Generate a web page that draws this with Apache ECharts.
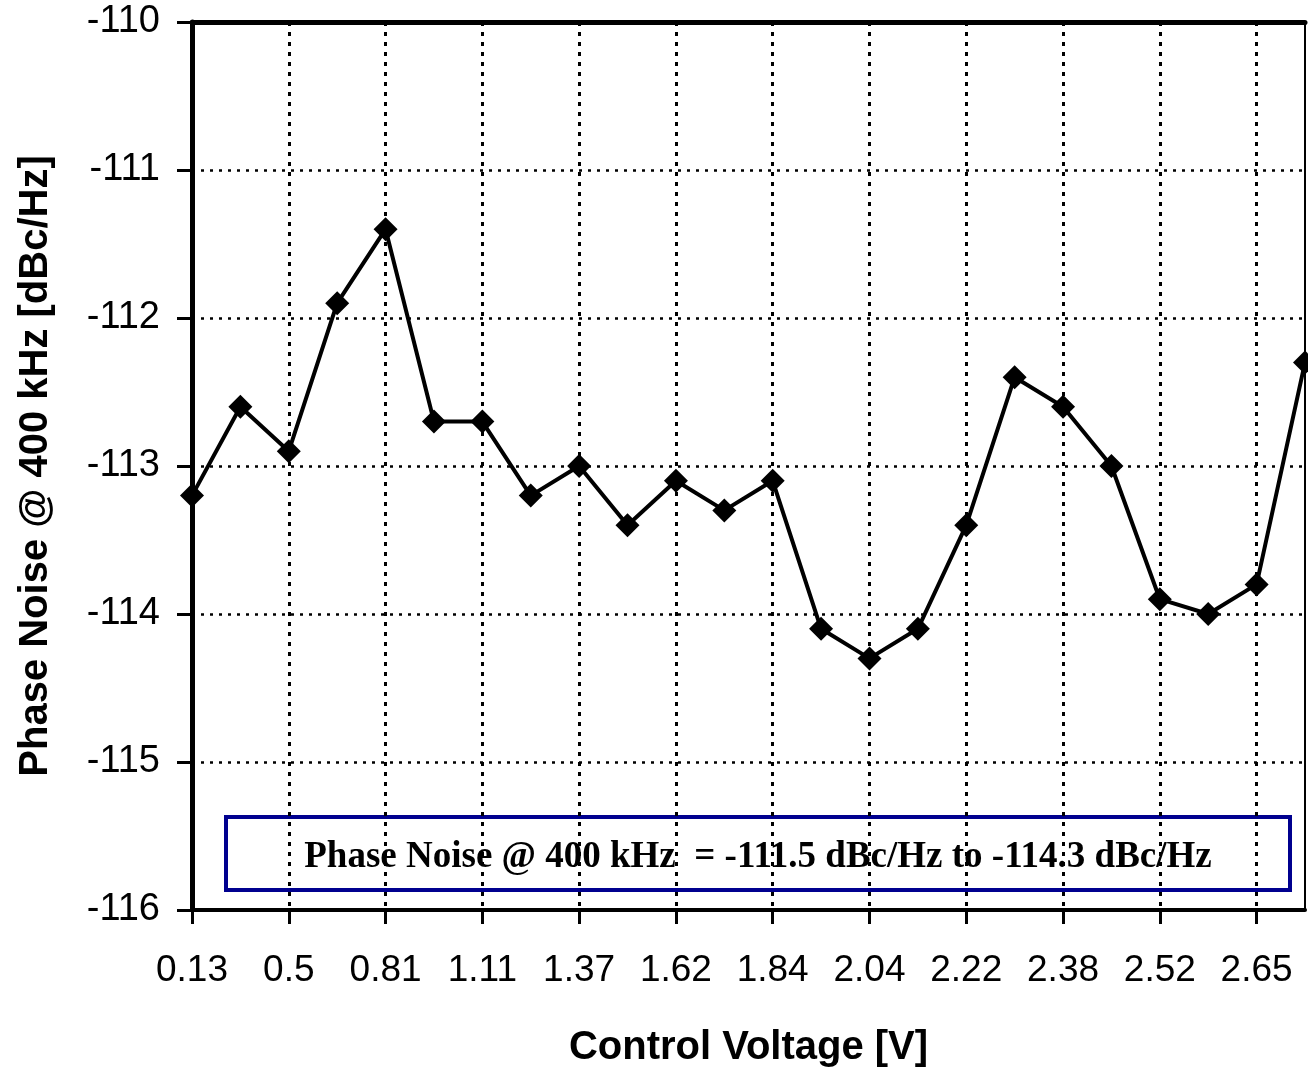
<!DOCTYPE html>
<html>
<head>
<meta charset="utf-8">
<script src="https://cdn.jsdelivr.net/npm/echarts@6/dist/echarts.min.js"></script>
<style>
html,body{margin:0;padding:0;background:#fff;overflow:hidden;}
#chart{width:1308px;height:1067px;}
</style>
</head>
<body>
<div id="chart"></div>
<script>
// Control voltage categories (every other one is labeled in the reference; the unlabeled ones are estimates)
var categories = ['0.13','0.33','0.5','0.66','0.81','0.96','1.11','1.24','1.37','1.50','1.62','1.73','1.84','1.94','2.04','2.13','2.22','2.30','2.38','2.45','2.52','2.59','2.65','2.75'];
// Phase noise @ 400 kHz [dBc/Hz]
var phaseNoise = [-113.2,-112.6,-112.9,-111.9,-111.4,-112.7,-112.7,-113.2,-113.0,-113.4,-113.1,-113.3,-113.1,-114.1,-114.3,-114.1,-113.4,-112.4,-112.6,-113.0,-113.9,-114.0,-113.8,-112.3];
var yMin = -116, yMax = -110, yStep = 1;
var annotationText = 'Phase Noise @ 400 kHz  = -111.5 dBc/Hz to -114.3 dBc/Hz';

var chart = echarts.init(document.getElementById('chart'), null, {renderer:'canvas'});
var sansFont = '"Liberation Sans", Arial, Helvetica, sans-serif';
var option = {
  animation: false,
  backgroundColor: '#ffffff',
  grid: {left: 192, right: 3, top: 22, bottom: 157, containLabel: false, outerBoundsMode: 'none'},
  xAxis: [{
    type: 'category',
    data: categories,
    boundaryGap: false,
    name: 'Control Voltage [V]',
    nameLocation: 'middle',
    nameGap: 118,
    nameTextStyle: {fontFamily: sansFont, fontWeight: 'bold', fontSize: 40, color: '#000'},
    axisLine: {show: true, lineStyle: {color: '#000', width: 4}},
    axisTick: {show: true, interval: 1, length: 14, lineStyle: {color: '#000', width: 3}},
    axisLabel: {interval: 1, margin: 42, fontFamily: sansFont, fontSize: 37, color: '#000'},
    splitLine: {show: true, interval: 1, lineStyle: {color: '#000', width: 3, type: [4, 6]}}
  },{
    type: 'category',
    data: categories,
    boundaryGap: false,
    position: 'top',
    axisLine: {show: true, lineStyle: {color: '#000', width: 5}},
    axisTick: {show: false},
    axisLabel: {show: false},
    splitLine: {show: false}
  }],
  yAxis: [{
    type: 'value',
    min: yMin, max: yMax, interval: yStep,
    name: 'Phase Noise @ 400 kHz [dBc/Hz]',
    nameLocation: 'middle',
    nameGap: 136,
    nameRotate: 90,
    nameTextStyle: {fontFamily: sansFont, fontWeight: 'bold', fontSize: 40, color: '#000'},
    axisLine: {show: true, lineStyle: {color: '#000', width: 5}},
    axisTick: {show: true, length: 15, lineStyle: {color: '#000', width: 3}},
    axisLabel: {margin: 32, fontFamily: sansFont, fontSize: 38, color: '#000'},
    splitLine: {show: true, lineStyle: {color: '#000', width: 2.5, type: [3, 6]}}
  },{
    type: 'value',
    min: yMin, max: yMax, interval: yStep,
    position: 'right',
    axisLine: {show: true, lineStyle: {color: '#000', width: 2}},
    axisTick: {show: false},
    axisLabel: {show: false},
    splitLine: {show: false}
  }],
  series: [{
    type: 'line',
    data: phaseNoise,
    xAxisIndex: 0,
    yAxisIndex: 0,
    symbol: 'diamond',
    symbolSize: [24, 24],
    clip: false,
    lineStyle: {color: '#000', width: 4},
    itemStyle: {color: '#000'},
    z: 5
  }],
  graphic: [{
    type: 'group',
    left: 224, top: 815,
    z: 10,
    children: [{
      type: 'rect',
      shape: {x: 0, y: 0, width: 1064, height: 73},
      style: {fill: '#fff', stroke: '#00008f', lineWidth: 4}
    },{
      type: 'text',
      x: 532, y: 40,
      style: {
        text: annotationText,
        fill: '#000',
        font: 'bold 37px "Liberation Serif", "Times New Roman", serif',
        align: 'center',
        verticalAlign: 'middle'
      }
    }]
  }]
};
chart.setOption(option);
</script>
</body>
</html>
